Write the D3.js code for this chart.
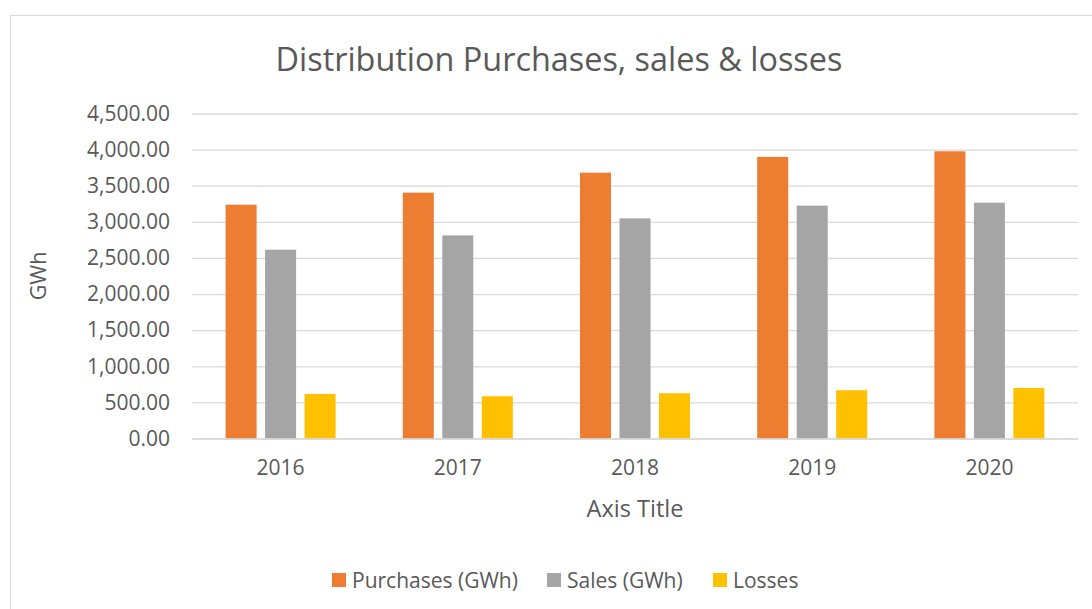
<!DOCTYPE html>
<html>
<head>
<meta charset="utf-8">
<script src="https://cdn.jsdelivr.net/npm/d3@7"></script>
<style>
  body { margin: 0; background: #fff; }
  text { font-family: "Open Sans", sans-serif; fill: #595959; }
</style>
</head>
<body>
<div id="graf"></div>
<script>
// datos
const anios = ["2016", "2017", "2018", "2019", "2020"]
const series = ["Purchases (GWh)", "Sales (GWh)", "Losses"]
const purchases = [3238, 3404, 3681, 3899, 3977]
const sales = [2614, 2812, 3048, 3224, 3265]
const losses = [617, 585, 627, 668, 700]
const colores = ["#ED7D31", "#A5A5A5", "#FFC000"]
const ticksY = [0, 500, 1000, 1500, 2000, 2500, 3000, 3500, 4000, 4500]

const anchoTotal = 1092
const altoTotal = 609

const margins = { top: 113.5, right: 14, bottom: 170.5, left: 192 }
const ancho = anchoTotal - margins.left - margins.right
const alto = altoTotal - margins.top - margins.bottom

const svg = d3.select("#graf")
  .append("svg")
  .attr("width", anchoTotal)
  .attr("height", altoTotal)

// borde del area de la grafica
svg.append("rect")
  .attr("x", 10.5).attr("y", 15.5)
  .attr("width", 1200).attr("height", 800)
  .attr("fill", "white")
  .attr("stroke", "#D9D9D9")
  .attr("stroke-width", 1)

const g = svg.append("g")
  .attr("transform", `translate(${margins.left}, ${margins.top})`)

// Escaladores
const y = d3.scaleLinear().domain([0, 4500]).range([alto, 0])
const x0 = d3.scaleBand().domain(anios).range([0, ancho]).padding(0)
const anchoGrupo = 110
const x1 = d3.scaleBand()
  .domain(series)
  .range([(x0.bandwidth() - anchoGrupo) / 2, (x0.bandwidth() + anchoGrupo) / 2])
  .paddingInner(0.215)
  .paddingOuter(0)

// lineas de la cuadricula
const yAxis = d3.axisLeft(y)
  .tickValues(ticksY)
  .tickSize(-ancho)
  .tickPadding(22)
  .tickFormat(d3.format(",.2f"))

const yAxisGroup = g.append("g").call(yAxis)
yAxisGroup.select(".domain").remove()
yAxisGroup.selectAll("line").attr("stroke", "#D9D9D9").attr("stroke-width", 1.3)
yAxisGroup.selectAll("text")
  .style("font-size", "21px")
  .attr("fill", "#595959")

// datos por anio
const datos = anios.map((a, i) => ({
  anio: a,
  valores: [purchases[i], sales[i], losses[i]].map((v, j) => ({ serie: series[j], valor: v, color: colores[j] }))
}))

const grupos = g.selectAll(".grupo")
  .data(datos)
  .enter()
  .append("g")
  .attr("transform", (d) => `translate(${x0(d.anio)}, 0)`)

grupos.selectAll("rect")
  .data((d) => d.valores)
  .enter()
  .append("rect")
  .attr("x", (d) => x1(d.serie))
  .attr("y", (d) => y(d.valor))
  .attr("width", x1.bandwidth())
  .attr("height", (d) => alto - y(d.valor))
  .attr("fill", (d) => d.color)

// eje x
const xAxis = d3.axisBottom(x0).tickSize(0).tickPadding(22)
const xAxisGroup = g.append("g")
  .attr("transform", `translate(0, ${alto})`)
  .call(xAxis)
xAxisGroup.select(".domain").attr("stroke", "#D9D9D9").attr("stroke-width", 1.3)
xAxisGroup.selectAll("text")
  .style("font-size", "21px")
  .attr("fill", "#595959")

// Titulos
svg.append("text")
  .attr("x", 559)
  .attr("y", 71)
  .attr("text-anchor", "middle")
  .style("font-size", "32.4px")
  .text("Distribution Purchases, sales & losses")

svg.append("text")
  .attr("x", margins.left + ancho / 2)
  .attr("y", 517)
  .attr("text-anchor", "middle")
  .style("font-size", "23.5px")
  .text("Axis Title")

svg.append("text")
  .attr("transform", `translate(46, ${margins.top + alto / 2}) rotate(-90)`)
  .attr("text-anchor", "middle")
  .style("font-size", "21.5px")
  .text("GWh")

// Leyenda
const leyendaX = [332, 547, 713]
const ley = svg.selectAll(".ley")
  .data(series)
  .enter()
  .append("g")
  .attr("transform", (d, i) => `translate(${leyendaX[i]}, 573)`)

ley.append("rect")
  .attr("width", 14)
  .attr("height", 14)
  .attr("fill", (d, i) => colores[i])

ley.append("text")
  .attr("x", 20)
  .attr("y", 14.5)
  .style("font-size", "21px")
  .text((d) => d)
</script>
</body>
</html>
